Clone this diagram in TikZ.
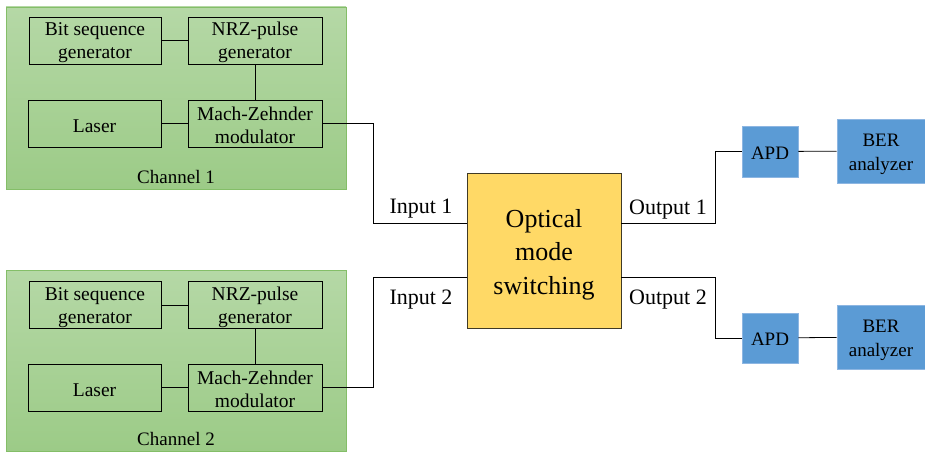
\documentclass[tikz,border=0pt]{standalone}
\usepackage{fontspec}
\setmainfont{Liberation Serif}
\newcommand\myup[1]{\rule{0pt}{#1}}
\begin{document}
\begin{tikzpicture}[x=1pt,y=-1pt,
  chan/.style={draw=chanborder,line width=0.8pt,top color=chantop,bottom color=chanbot},
  blk/.style={draw=black,line width=0.6pt,align=center,inner ysep=0pt,font=\fontsize{19.5}{23}\selectfont},
  sw/.style={draw=swborder,line width=0.8pt,fill=swfill,align=center,font=\fontsize{26}{33.5}\selectfont},
  bl/.style={draw=blborder,line width=0.6pt,fill=blfill,align=center,inner ysep=0pt,font=\fontsize{19}{24}\selectfont},
  lbl/.style={font=\fontsize{22}{24}\selectfont},
  conn/.style={line width=0.8pt}]
\definecolor{chantop}{HTML}{B5D8A6}
\definecolor{chanbot}{HTML}{9CCB87}
\definecolor{chanborder}{HTML}{84BE68}
\definecolor{swfill}{HTML}{FFD966}
\definecolor{swborder}{HTML}{403A26}
\definecolor{blfill}{HTML}{5B9BD5}
\definecolor{blborder}{HTML}{8DB6E2}
\useasboundingbox (0,0) rectangle (925,452);
% channel 1
\path[chan] (6,7) rectangle (346,189);
\node[blk,minimum width=132pt,minimum height=47pt] (bs1) at (95,40.5) {\myup{18pt}Bit sequence\\generator};
\node[blk,minimum width=134pt,minimum height=47pt] (nrz1) at (255,40.5) {\myup{18pt}NRZ-pulse\\generator};
\node[blk,minimum width=133pt,minimum height=47pt] (las1) at (94.5,123.5) {\myup{18pt}Laser};
\node[blk,minimum width=134pt,minimum height=47pt] (mzm1) at (255,123.5) {\myup{18pt}Mach-Zehnder\\modulator};
\node[font=\fontsize{19}{22}\selectfont] (ch1) at (176,177) {Channel 1};
% channel 2
\path[chan] (6,270) rectangle (346,451);
\node[blk,minimum width=132pt,minimum height=47pt] (bs2) at (95,305) {\myup{18pt}Bit sequence\\generator};
\node[blk,minimum width=134pt,minimum height=47pt] (nrz2) at (255,305) {\myup{18pt}NRZ-pulse\\generator};
\node[blk,minimum width=133pt,minimum height=47pt] (las2) at (94.5,387.5) {\myup{18pt}Laser};
\node[blk,minimum width=134pt,minimum height=47pt] (mzm2) at (255,387.5) {\myup{18pt}Mach-Zehnder\\modulator};
\node[font=\fontsize{19}{22}\selectfont] (ch2) at (176,439) {Channel 2};
% switch
\node[sw,minimum width=154pt,minimum height=155pt] (sw) at (544,250.5) {\myup{26pt}Optical\\mode\\switching};
% APDs and BER
\node[bl,minimum width=56pt,minimum height=51pt] (apd1) at (770,151.5) {\myup{16pt}APD};
\node[bl,minimum width=88pt,minimum height=64pt] (ber1) at (881,151) {\myup{19pt}BER\\analyzer};
\node[bl,minimum width=56pt,minimum height=50pt] (apd2) at (770,338) {\myup{16pt}APD};
\node[bl,minimum width=88pt,minimum height=64pt] (ber2) at (881,337) {\myup{19pt}BER\\analyzer};
% internal connectors
\draw[conn] (bs1) -- (nrz1);
\draw[conn] (nrz1) -- (mzm1);
\draw[conn] (las1) -- (mzm1);
\draw[conn] (bs2) -- (nrz2);
\draw[conn] (nrz2) -- (mzm2);
\draw[conn] (las2) -- (mzm2);
% to switch
\coordinate (in1) at (sw.west |- 0,223);
\coordinate (in2) at (sw.west |- 0,277);
\coordinate (out1) at (sw.east |- 0,223);
\coordinate (out2) at (sw.east |- 0,277);
\draw[conn] (mzm1.east) -| (373,223) -- (in1);
\draw[conn] (mzm2.east) -| (373,277) -- (in2);
\draw[conn] (out1) -| (715,151.5) -- (apd1.west);
\draw[conn] (out2) -| (715,338) -- (apd2.west);
\draw[conn] (apd1) -- (ber1);
\draw[conn] (apd2) -- (ber2);
% labels
\node[lbl] (li1) at (421,209) {Input 1};
\node[lbl] (li2) at (421,300) {Input 2};
\node[lbl] (lo1) at (668,210) {Output 1};
\node[lbl] (lo2) at (668,300) {Output 2};
\end{tikzpicture}
\end{document}
